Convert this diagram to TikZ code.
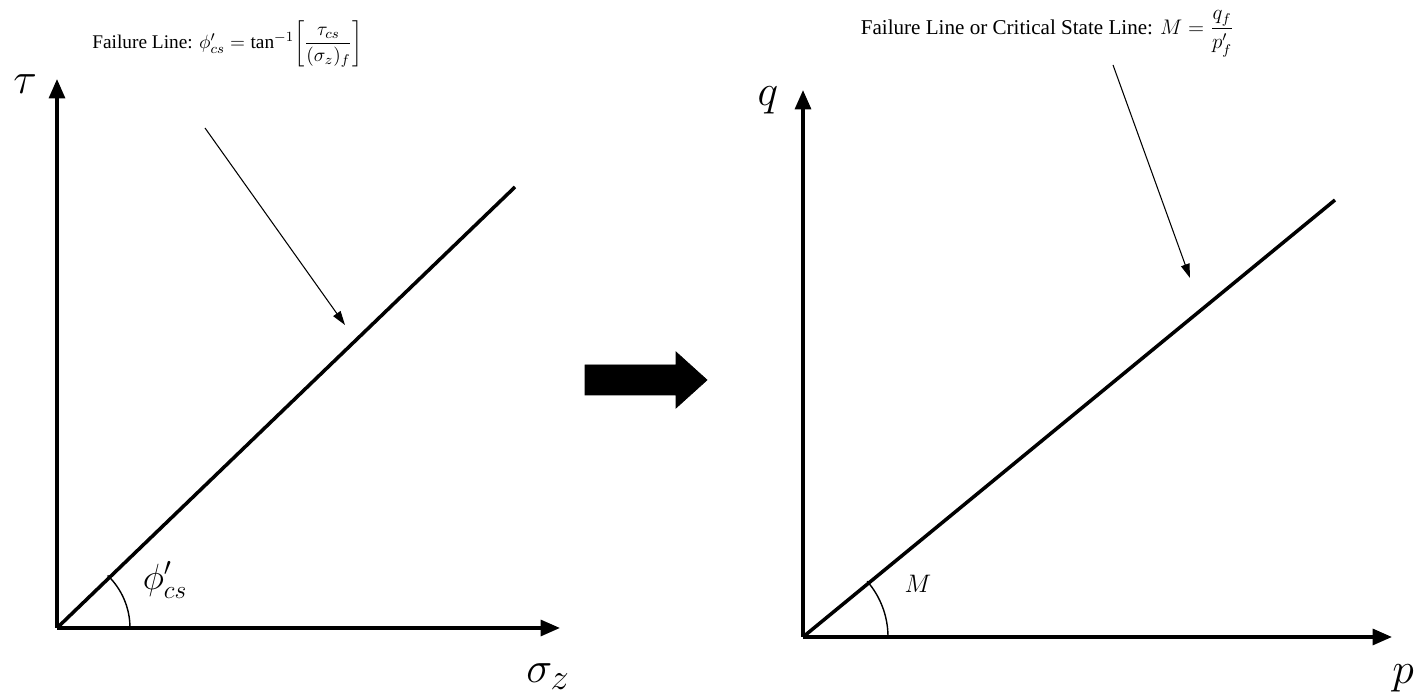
\documentclass[tikz,border=0pt]{standalone}
\usepackage{amsmath}
\usepackage{fontspec}
\setmainfont{Liberation Serif}
\usetikzlibrary{arrows.meta}

\tikzset{
  axis/.style={line width=2pt, -{Triangle[length=11pt, width=9pt]}},
  failline/.style={line width=2pt},
  pointer/.style={line width=0.6pt, -{Triangle[length=8pt, width=5pt]}},
  anglearc/.style={line width=0.8pt},
  bigarrow/.style={fill=black, draw=black},
}

\begin{document}
\begin{tikzpicture}[font=\fontsize{11}{13}\selectfont]
        \useasboundingbox (0,0) rectangle (28.32,13.98);

        % --- Grafico sinistro: tau - sigma ---
        \coordinate (O1) at (1.14, 1.42);
        \coordinate (Y1) at (1.14, 12.4);
        \coordinate (X1) at (11.2, 1.42);
        \coordinate (L1) at (10.3, 10.24);
        \draw[axis] (O1) -- (Y1);
        \draw[axis] (O1) -- (X1);
        \draw[failline] (O1) -- (L1);
        % arco dell'angolo
        \draw[anglearc] ([shift={(0:1.46)}]O1) arc (0:46:1.46);
        \node (phi) at (3.3, 2.38) {\huge $\phi'_{cs}$};
        \node (tau) at (0.5, 12.3) {\fontsize{30}{36}\selectfont $\tau$};
        \node (sigma) at (10.96, 0.45) {\fontsize{30}{36}\selectfont $\sigma_z$};

        % Etichetta della retta di rottura
        \node (ann1) at (4.55, 13.1)
          {Failure Line: $\phi'_{cs} = \tan^{-1}\!\left[\dfrac{\tau_{cs}}{(\sigma_z)_f}\right]$};
        \coordinate (a1s) at (4.1, 11.42);
        \coordinate (a1e) at (6.9, 7.48);
        \draw[pointer] (a1s) -- (a1e);

        % --- Freccia centrale ---
        \fill[bigarrow] (11.7, 6.68) -- (13.52, 6.68) -- (13.52, 6.94) -- (14.14, 6.38)
          -- (13.52, 5.82) -- (13.52, 6.08) -- (11.7, 6.08) -- cycle;

        % --- Grafico destro: q - p ---
        \coordinate (O2) at (16.06, 1.24);
        \coordinate (Y2) at (16.06, 12.18);
        \coordinate (X2) at (27.84, 1.24);
        \coordinate (L2) at (26.7, 9.98);
        \draw[axis] (O2) -- (Y2);
        \draw[axis] (O2) -- (X2);
        \draw[failline] (O2) -- (L2);
        \draw[anglearc] ([shift={(0:1.7)}]O2) arc (0:41:1.7);
        \node (M) at (18.36, 2.3) {\Large $M$};
        \node (q) at (15.36, 11.98) {\fontsize{30}{36}\selectfont $q$};
        \node (p) at (28.06, 0.42) {\fontsize{30}{36}\selectfont $p$};

        % Etichetta della linea di stato critico
        \node (ann2) at (20.95, 13.3)
          {\fontsize{12}{14}\selectfont Failure Line or Critical State Line: $M = \dfrac{q_f}{p'_f}$};
        \coordinate (a2s) at (22.26, 12.68);
        \coordinate (a2e) at (23.8, 8.42);
        \draw[pointer] (a2s) -- (a2e);

    \end{tikzpicture}
\end{document}
